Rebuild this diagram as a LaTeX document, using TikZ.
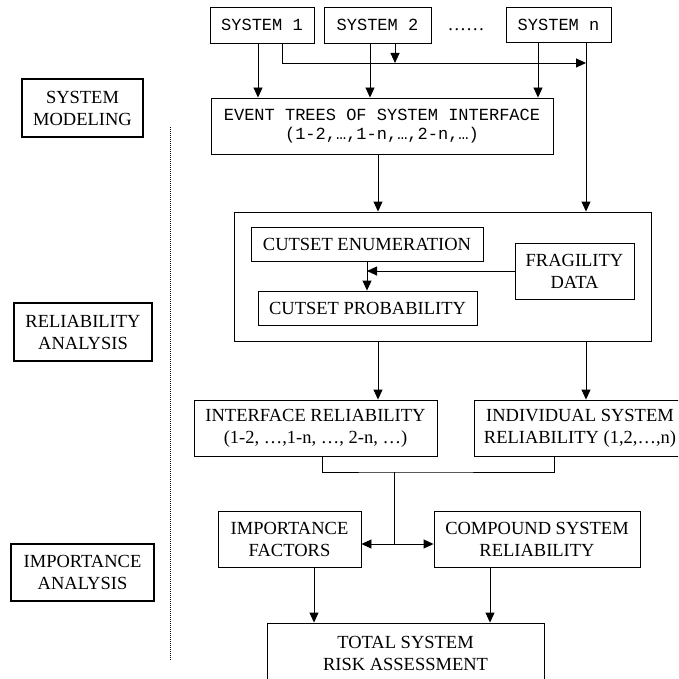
\documentclass[tikz,border=0pt]{standalone}
\usepackage{fontspec}
\setmainfont{Liberation Serif}
\setmonofont{Liberation Mono}
\usetikzlibrary{arrows.meta}
\begin{document}
\begin{tikzpicture}[x=1pt,y=-1pt,
  box/.style={draw,line width=0.9pt,inner sep=0pt,align=center,font=\fontsize{18.5}{22}\selectfont},
  mbox/.style={draw,line width=0.9pt,inner sep=0pt,align=center,font=\ttfamily\fontsize{17}{18.5}\selectfont},
  phase/.style={box,line width=1.3pt},
  arr/.style={line width=0.9pt,-{Triangle[length=10pt,width=9pt]}},
  ln/.style={line width=0.9pt}]
\useasboundingbox (0,0) rectangle (678,679);
\clip (0,0) rectangle (678,679);
% top systems
\node[mbox,minimum width=104pt,minimum height=36pt] (s1) at (262,25) {SYSTEM 1};
\node[mbox,minimum width=107pt,minimum height=36pt] (s2) at (377.5,25) {SYSTEM 2};
\node[font=\fontsize{18.5}{22}\selectfont,inner sep=0pt] (dots) at (466,30) {……};
\node[mbox,minimum width=105pt,minimum height=35pt] (sn) at (558.5,25) {SYSTEM n};
\node[mbox,minimum width=342pt,minimum height=56pt] (evt) at (382,126) {EVENT TREES OF SYSTEM INTERFACE\\(1-2,…,1-n,…,2-n,…)};
% reliability block
\node[draw,line width=0.9pt,minimum width=417pt,minimum height=129pt,inner sep=0pt] (big) at (442.5,276.5) {};
\node[box,minimum width=232pt,minimum height=34pt] (ce) at (367,244) {CUTSET ENUMERATION};
\node[box,minimum width=219pt,minimum height=34pt] (cp) at (367.5,308) {CUTSET PROBABILITY};
\node[box,minimum width=119pt,minimum height=56pt] (fd) at (574.5,271) {FRAGILITY\\DATA};
\node[box,minimum width=243pt,minimum height=56pt] (ir) at (315.5,428) {INTERFACE RELIABILITY\\(1-2, …,1-n, …, 2-n, …)};
\node[box,minimum width=212pt,minimum height=56pt] (isr) at (580,428) {INDIVIDUAL SYSTEM\\RELIABILITY (1,2,…,n)};
\node[box,minimum width=143pt,minimum height=56pt] (if) at (289.5,539) {IMPORTANCE\\FACTORS};
\node[box,minimum width=206pt,minimum height=56pt] (csr) at (537,539) {COMPOUND SYSTEM\\RELIABILITY};
\node[box,minimum width=277pt,minimum height=60pt] (tot) at (405.5,653) {TOTAL SYSTEM\\RISK ASSESSMENT};
% phase labels
\node[phase,minimum width=121pt,minimum height=58pt] (sm) at (82.5,108) {SYSTEM\\MODELING};
\node[phase,minimum width=138pt,minimum height=58pt] (ra) at (83,332) {RELIABILITY\\ANALYSIS};
\node[phase,minimum width=143pt,minimum height=57pt] (ia) at (82.5,572.5) {IMPORTANCE\\ANALYSIS};
\coordinate (dtop) at (170,127);
\coordinate (dbot) at (170,660);
\draw[line width=0.9pt,dash pattern=on 1pt off 1pt] (dtop) -- (dbot);
% connectors from systems
\coordinate (jn) at (586,63);
\draw[arr] ([xshift=-4pt]s1.south) -- ([xshift=-4pt]s1.south |- evt.north);
\draw[arr] ([xshift=20pt]s1.south) |- (jn);
\draw[arr] ([xshift=-7.5pt]s2.south) -- ([xshift=-7.5pt]s2.south |- evt.north);
\draw[arr] ([xshift=17.5pt]s2.south) -- ([xshift=17.5pt]s2.south |- jn);
\draw[arr] ([xshift=-20.5pt]sn.south) -- ([xshift=-20.5pt]sn.south |- evt.north);
\draw[arr] ([xshift=27.5pt]sn.south) -- ([xshift=27.5pt]sn.south |- big.north);
\draw[arr] ([xshift=-4pt]evt.south) -- ([xshift=-4pt]evt.south |- big.north);
% inside block
\draw[arr] (ce.south) -- (ce.south |- cp.north);
\draw[arr] (fd.west) -- (ce.south |- fd.west);
% block outputs
\draw[arr] ([xshift=-64.5pt]big.south) -- ([xshift=-64.5pt]big.south |- ir.north);
\draw[arr] ([xshift=143.5pt]big.south) -- ([xshift=143.5pt]big.south |- isr.north);
% merge
\coordinate (m) at (394,472);
\coordinate (m2) at (394,544);
\draw[ln] ([xshift=6.5pt]ir.south) |- (m) -| ([xshift=-26pt]isr.south);
\draw[ln] (m) -- (m2);
\draw[arr] (m2) -- (m2 -| if.east);
\draw[arr] (m2) -- (m2 -| csr.west);
\draw[arr] ([xshift=24.5pt]if.south) -- ([xshift=24.5pt]if.south |- tot.north);
\draw[arr] ([xshift=-47pt]csr.south) -- ([xshift=-47pt]csr.south |- tot.north);
\end{tikzpicture}
\end{document}
